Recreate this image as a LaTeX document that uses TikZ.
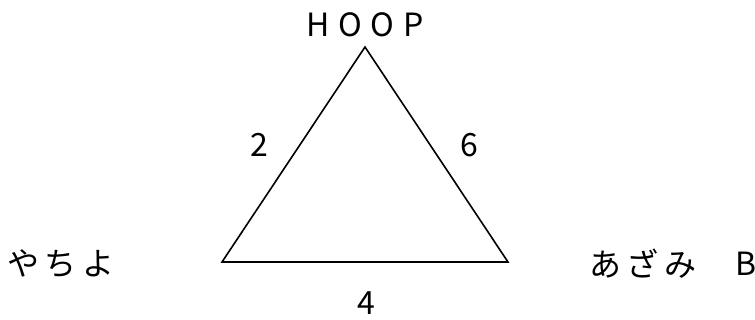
\documentclass[tikz,border=0pt]{standalone}
\usepackage{fontspec}
\setmainfont{Noto Sans CJK JP}
\newfontfamily\spacedfont[LetterSpace=27]{Noto Sans CJK JP}
\newfontfamily\kanafont[LetterSpace=16]{Noto Sans CJK JP}
\usepackage{tikz}

\begin{document}
\begin{tikzpicture}[
    x=1pt, y=-1pt,
    every node/.style={inner sep=0pt, font=\fontsize{32}{36}\selectfont},
    side/.style={line width=1.6pt, line join=miter}
]
\useasboundingbox (0,0) rectangle (755,320);
\coordinate (top) at (365,47);
\coordinate (left) at (222,262);
\coordinate (right) at (508,262);

\node (hoop) at (365,25) {\spacedfont HOOP};
\node (yachiyo) at (61,264) {\kanafont やちよ};
\node (azami) at (643,264) {\kanafont あざみ};
\node (b) at (746,264) {B};
\node (ab) at (259,145) {2};
\node (bc) at (469,145) {6};
\node (ca) at (366,303) {4};

\draw[side] (top) -- (left) -- (right) -- cycle;
\end{tikzpicture}
\end{document}
